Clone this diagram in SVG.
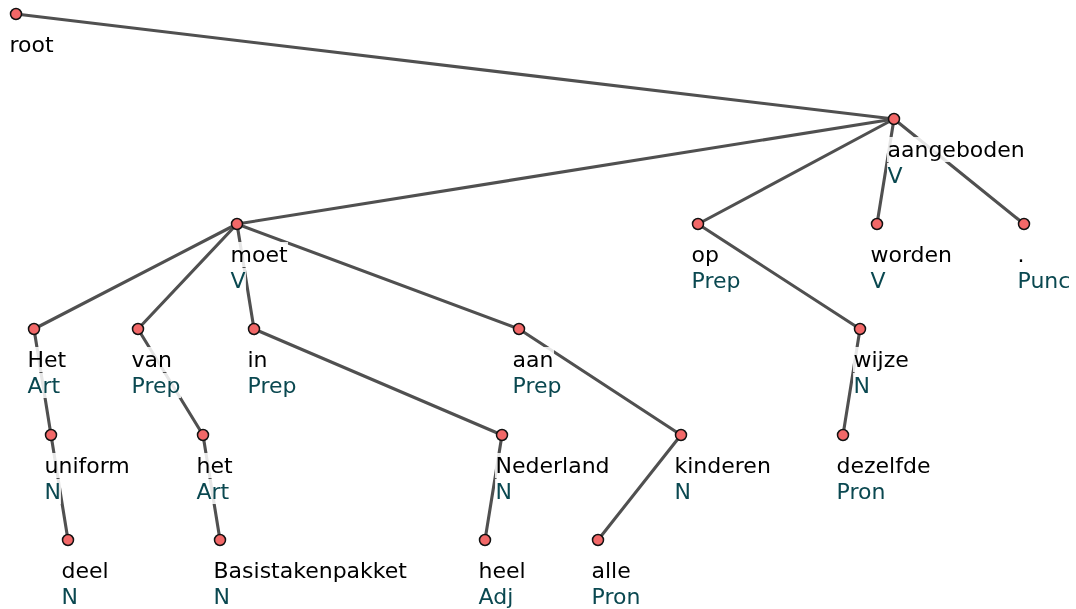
<svg xmlns="http://www.w3.org/2000/svg" width="1076" height="609" viewBox="0 0 1076 609">
  <defs>
    <!-- translucent white box behind each label line -->
    <filter id="labelbg" x="0" y="0" width="1" height="1" color-interpolation-filters="sRGB">
      <feFlood flood-color="#ffffff" flood-opacity="0.86"/>
      <feComposite in="SourceGraphic"/>
    </filter>
  </defs>
  <style>
    .edge { stroke: #505050; stroke-width: 3.1; fill: none; stroke-linecap: round; }
    .node circle { fill: #f26868; stroke: #111111; stroke-width: 1.5; }
    .node text { font-family: "DejaVu Sans", sans-serif; font-size: 22px; filter: url(#labelbg); }
    .word { fill: #000000; }
    .pos { fill: #0a4850; }
  </style>
  <rect width="1076" height="609" fill="#ffffff"/>

  <g id="edges">
    <line class="edge" x1="16" y1="14" x2="894" y2="119"/>
    <line class="edge" x1="894" y1="119" x2="237" y2="224"/>
    <line class="edge" x1="894" y1="119" x2="698" y2="224"/>
    <line class="edge" x1="894" y1="119" x2="877" y2="224"/>
    <line class="edge" x1="894" y1="119" x2="1024" y2="224"/>
    <line class="edge" x1="237" y1="224" x2="34" y2="329"/>
    <line class="edge" x1="237" y1="224" x2="138" y2="329"/>
    <line class="edge" x1="237" y1="224" x2="254" y2="329"/>
    <line class="edge" x1="237" y1="224" x2="519" y2="329"/>
    <line class="edge" x1="698" y1="224" x2="860" y2="329"/>
    <line class="edge" x1="34" y1="329" x2="51" y2="435"/>
    <line class="edge" x1="51" y1="435" x2="68" y2="540"/>
    <line class="edge" x1="138" y1="329" x2="203" y2="435"/>
    <line class="edge" x1="203" y1="435" x2="220" y2="540"/>
    <line class="edge" x1="254" y1="329" x2="502" y2="435"/>
    <line class="edge" x1="502" y1="435" x2="485" y2="540"/>
    <line class="edge" x1="519" y1="329" x2="681" y2="435"/>
    <line class="edge" x1="681" y1="435" x2="598" y2="540"/>
    <line class="edge" x1="860" y1="329" x2="843" y2="435"/>
  </g>

  <g id="n-root" class="node">
    <circle cx="16" cy="14" r="5.5"/>
    <text class="word" x="9.5" y="52">root</text>
  </g>
  <g id="n-aangeboden" class="node">
    <circle cx="894" cy="119" r="5.5"/>
    <text class="word" x="887.5" y="157">aangeboden</text>
    <text class="pos" x="887.5" y="183">V</text>
  </g>
  <g id="n-moet" class="node">
    <circle cx="237" cy="224" r="5.5"/>
    <text class="word" x="230.5" y="262">moet</text>
    <text class="pos" x="230.5" y="288">V</text>
  </g>
  <g id="n-op" class="node">
    <circle cx="698" cy="224" r="5.5"/>
    <text class="word" x="691.5" y="262">op</text>
    <text class="pos" x="691.5" y="288">Prep</text>
  </g>
  <g id="n-worden" class="node">
    <circle cx="877" cy="224" r="5.5"/>
    <text class="word" x="870.5" y="262">worden</text>
    <text class="pos" x="870.5" y="288">V</text>
  </g>
  <g id="n-punc" class="node">
    <circle cx="1024" cy="224" r="5.5"/>
    <text class="word" x="1017.5" y="262">.</text>
    <text class="pos" x="1017.5" y="288">Punc</text>
  </g>
  <g id="n-het-art" class="node">
    <circle cx="34" cy="329" r="5.5"/>
    <text class="word" x="27.5" y="367">Het</text>
    <text class="pos" x="27.5" y="393">Art</text>
  </g>
  <g id="n-van" class="node">
    <circle cx="138" cy="329" r="5.5"/>
    <text class="word" x="131.5" y="367">van</text>
    <text class="pos" x="131.5" y="393">Prep</text>
  </g>
  <g id="n-in" class="node">
    <circle cx="254" cy="329" r="5.5"/>
    <text class="word" x="247.5" y="367">in</text>
    <text class="pos" x="247.5" y="393">Prep</text>
  </g>
  <g id="n-aan" class="node">
    <circle cx="519" cy="329" r="5.5"/>
    <text class="word" x="512.5" y="367">aan</text>
    <text class="pos" x="512.5" y="393">Prep</text>
  </g>
  <g id="n-wijze" class="node">
    <circle cx="860" cy="329" r="5.5"/>
    <text class="word" x="853.5" y="367">wijze</text>
    <text class="pos" x="853.5" y="393">N</text>
  </g>
  <g id="n-uniform" class="node">
    <circle cx="51" cy="435" r="5.5"/>
    <text class="word" x="44.5" y="473">uniform</text>
    <text class="pos" x="44.5" y="499">N</text>
  </g>
  <g id="n-het" class="node">
    <circle cx="203" cy="435" r="5.5"/>
    <text class="word" x="196.5" y="473">het</text>
    <text class="pos" x="196.5" y="499">Art</text>
  </g>
  <g id="n-nederland" class="node">
    <circle cx="502" cy="435" r="5.5"/>
    <text class="word" x="495.5" y="473">Nederland</text>
    <text class="pos" x="495.5" y="499">N</text>
  </g>
  <g id="n-kinderen" class="node">
    <circle cx="681" cy="435" r="5.5"/>
    <text class="word" x="674.5" y="473">kinderen</text>
    <text class="pos" x="674.5" y="499">N</text>
  </g>
  <g id="n-dezelfde" class="node">
    <circle cx="843" cy="435" r="5.5"/>
    <text class="word" x="836.5" y="473">dezelfde</text>
    <text class="pos" x="836.5" y="499">Pron</text>
  </g>
  <g id="n-deel" class="node">
    <circle cx="68" cy="540" r="5.5"/>
    <text class="word" x="61.5" y="578">deel</text>
    <text class="pos" x="61.5" y="604">N</text>
  </g>
  <g id="n-basistakenpakket" class="node">
    <circle cx="220" cy="540" r="5.5"/>
    <text class="word" x="213.5" y="578">Basistakenpakket</text>
    <text class="pos" x="213.5" y="604">N</text>
  </g>
  <g id="n-heel" class="node">
    <circle cx="485" cy="540" r="5.5"/>
    <text class="word" x="478.5" y="578">heel</text>
    <text class="pos" x="478.5" y="604">Adj</text>
  </g>
  <g id="n-alle" class="node">
    <circle cx="598" cy="540" r="5.5"/>
    <text class="word" x="591.5" y="578">alle</text>
    <text class="pos" x="591.5" y="604">Pron</text>
  </g>
</svg>
